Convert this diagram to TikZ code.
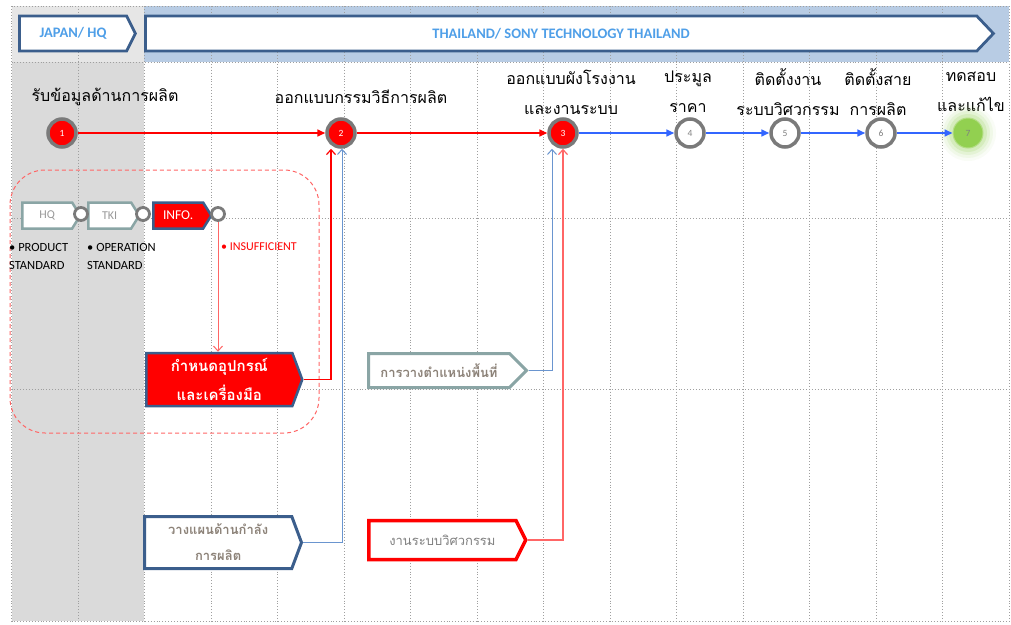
\documentclass[tikz,border=0pt]{standalone}
\usepackage{fontspec}
\setmainfont{Carlito}
\newfontfamily\thai[Script=Thai]{Loma}
\usetikzlibrary{shapes.symbols,arrows.meta,calc}

\definecolor{hdrblue}{HTML}{B8CCE4}
\definecolor{hdrgray}{HTML}{E6E6E6}
\definecolor{lanegray}{HTML}{DADADA}
\definecolor{frameblue}{HTML}{3B5E8C}
\definecolor{titleblue}{HTML}{4F9FE8}
\definecolor{flowblue}{HTML}{3366FF}
\definecolor{thinblue}{HTML}{6A95CF}
\definecolor{softred}{HTML}{FF6666}
\definecolor{ringgray}{HTML}{7A7A7A}
\definecolor{tealgray}{HTML}{8AA5A5}
\definecolor{boxtext}{HTML}{8C8278}
\definecolor{okgreen}{HTML}{92D050}

\tikzset{
  x=1pt, y=-1pt,
  gridline/.style={gray!75, line width=0.8pt, dash pattern=on 0.9pt off 2pt},
  hdr/.style={signal, signal to=east, anchor=west, draw=frameblue, line width=2.8pt,
    fill=white, inner sep=0pt, text=titleblue,
    font=\bfseries\fontsize{14.5}{16}\selectfont},
  bigdot/.style={circle, minimum size=28pt, inner sep=0pt, line width=3.5pt,
    draw=ringgray, font=\fontsize{9.5}{10}\selectfont},
  reddot/.style={bigdot, fill=red, text=white},
  opendot/.style={bigdot, fill=white, text=gray},
  smalldot/.style={circle, minimum size=13pt, inner sep=0pt, line width=2.8pt,
    draw=ringgray, fill=white},
  tag/.style={signal, signal to=east, anchor=west, inner sep=0pt, line width=2.5pt,
    minimum height=26pt, signal pointer angle=116},
  flowbox/.style={signal, signal to=east, anchor=west, inner sep=0pt, align=center,
    font=\thai\bfseries\fontsize{13}{26}\selectfont, text=boxtext, fill=white},
  steplabel/.style={align=center, font=\thai\fontsize{16}{30}\selectfont},
  note/.style={align=left, anchor=north west, inner sep=0pt,
    font=\fontsize{12.5}{18}\selectfont},
  redflow/.style={red, line width=1.6pt, -{Triangle[length=8pt,width=7pt]}},
  blueflow/.style={flowblue, line width=1.6pt, -{Triangle[length=8pt,width=7pt]}},
  feed/.style={line width=1pt, -{Straight Barb[length=5pt,width=9pt]}},
}

\begin{document}
\begin{tikzpicture}
\useasboundingbox[fill=white] (0,0) rectangle (1011,624);

% lane backgrounds
\fill[hdrgray] (11.5,6) rectangle (144,62);
\fill[hdrblue] (144,6) rectangle (1009,62);
\fill[lanegray] (11.5,62) rectangle (144,621);

% dotted grid
\foreach \k in {0,...,15}
  \draw[gridline] ({11.5+66.5*\k},6) -- ({11.5+66.5*\k},621);
\foreach \y in {6,62,218,389,621}
  \draw[gridline] (11.5,\y) -- (1009,\y);

% header arrows
\node[hdr, minimum width=116pt, minimum height=35pt, signal pointer angle=127]
  (japan) at (18,33.5) {JAPAN/ HQ};
\node[hdr, minimum width=848pt, minimum height=35pt, signal pointer angle=93]
  (thai) at (144,33.5) {THAILAND/ SONY TECHNOLOGY THAILAND};

% step titles
\node[steplabel] (t1) at (105,97) {รับข้อมูลด้านการผลิต};
\node[steplabel] (t2) at (361,97) {ออกแบบกรรมวิธีการผลิต};
\node[steplabel] (t3) at (571,92) {ออกแบบผังโรงงาน\\และงานระบบ};
\node[steplabel] (t4) at (688,92) {ประมูล\\ราคา};
\node[steplabel] (t5) at (788,92) {ติดตั้งงาน\\ระบบวิศวกรรม};
\node[steplabel] (t6) at (878,92) {ติดตั้งสาย\\การผลิต};
\node[steplabel] (t7) at (971,92) {ทดสอบ\\และแก้ไข};

% glow behind the last step
\coordinate (glow) at (968,133);
\foreach \r/\o in {28/0.05,25/0.08,22/0.12,19/0.18}
  \fill[okgreen, opacity=\o] (glow) circle (\r pt);

% step circles
\node[reddot] (c1) at (62,133) {1};
\node[reddot] (c2) at (341,133) {2};
\node[reddot] (c3) at (563,133) {3};
\node[opendot] (c4) at (690,133) {4};
\node[opendot] (c5) at (785,133) {5};
\node[opendot] (c6) at (881,133) {6};
\node[bigdot, fill=okgreen, draw=okgreen!70!white, line width=1pt,
  minimum size=30pt, text=gray] (c7) at (glow) {7};

\draw[redflow] (c1) -- (c2);
\draw[redflow] (c2) -- (c3);
\draw[blueflow] (c3) -- (c4);
\draw[blueflow] (c4) -- (c5);
\draw[blueflow] (c5) -- (c6);
\draw[blueflow] (c6) -- (c7);

% information source group
\draw[softred, line width=1pt, dash pattern=on 4pt off 3pt, rounded corners=35pt]
  (10,170) rectangle (319,433);

\node[tag, minimum width=58pt, draw=tealgray, fill=white, text=gray!80,
  font=\fontsize{12}{14}\selectfont] (hq) at (21,215.5) {HQ};
\node[tag, minimum width=51pt, draw=tealgray, fill=white, text=gray!80,
  font=\fontsize{12}{14}\selectfont] (tki) at (87,215.5) {TKI};
\node[tag, minimum width=58pt, draw=frameblue, fill=red, text=white,
  font=\fontsize{13.5}{15}\selectfont] (info) at (152,215.5) {INFO.};
\node[smalldot] (hqdot) at (81,214) {};
\node[smalldot] (tkidot) at (143,214) {};
\node[smalldot] (infodot) at (218,214) {};

\node[note] (prod) at (9,243) {• PRODUCT\\STANDARD};
\node[note] (oper) at (87,243) {• OPERATION\\STANDARD};
\node[note, text=red, font=\fontsize{12}{14}\selectfont] (insuf) at (221,243) {• INSUFFICIENT};

% equipment and tooling
\node[flowbox, minimum width=156pt, minimum height=53pt, signal pointer angle=139,
  fill=red, draw=frameblue, line width=2.5pt, text=white,
  font=\thai\bfseries\fontsize{15}{29}\selectfont] (eq) at (145,379.5)
  {กำหนดอุปกรณ์\\และเครื่องมือ};

% supporting inputs
\node[flowbox, minimum width=157pt, minimum height=52pt, signal pointer angle=139,
  draw=frameblue, line width=3pt] (plan) at (143,542.5)
  {วางแผนด้านกำลัง\\การผลิต};
\node[flowbox, minimum width=158pt, minimum height=34pt, signal pointer angle=90,
  draw=tealgray, line width=3pt] (area) at (367,370.5)
  {การวางตำแหน่งพื้นที่};
\node[flowbox, minimum width=157pt, minimum height=39pt, signal pointer angle=127,
  draw=red, line width=3.5pt, text=gray, font=\thai\fontsize{13}{15}\selectfont]
  (eng) at (367,540) {งานระบบวิศวกรรม};

% feeding connectors
\draw[feed, softred] (infodot) -- (infodot |- eq.north);
\draw[feed, red, line width=1.2pt] (eq.east) -| ([xshift=-10pt]c2.south);
\draw[feed, thinblue] (plan.east) -| ([xshift=1pt]c2.south);
\draw[feed, thinblue] (area.east) -| ([xshift=-11pt]c3.south);
\draw[feed, softred, line width=1.2pt] (eng.east) -| (c3.south);
\end{tikzpicture}
\end{document}
